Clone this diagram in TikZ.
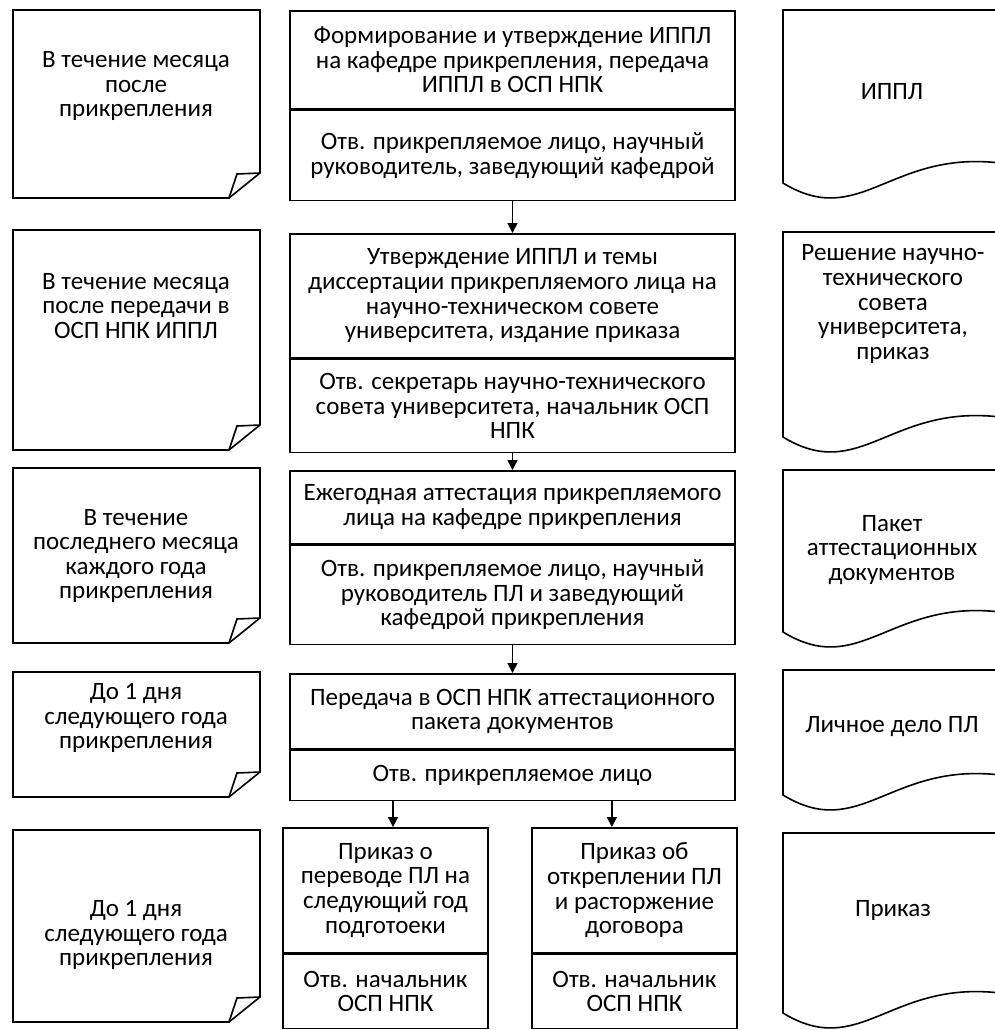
\documentclass[tikz,border=0pt]{standalone}
\usepackage{fontspec}
\setmainfont{Carlito}
\usetikzlibrary{arrows.meta,calc,positioning}

% page with a curled corner (left column)
\newcommand{\notepage}[4]{%
  \draw[frame] (#1,#2) -- (#3,#2) -- (#3,#4-25) -- (#3-31,#4) -- (#1,#4) -- cycle;
  \draw[frame] (#3-31,#4) -- (#3-23,#4-24) -- (#3,#4-25);
}
% document with a wavy bottom (right column)
\newcommand{\docpage}[2]{%
  \draw[frame] (1030,#1) -- (783,#1) -- (783,#2)
    .. controls (860,#2+47) and (890,#2-33) .. (1000,#2-20) -- (1030,#2-20);
}

\tikzset{
  frame/.style={line width=0.8pt},
  txt/.style={font=\fontsize{12.5}{12.3}\selectfont,align=center},
  stage/.style={txt,draw,line width=0.8pt,anchor=north,minimum width=222.5pt,inner sep=1pt},
  halfstage/.style={stage,minimum width=102.5pt},
  arr/.style={line width=0.8pt,-{Triangle[length=5pt,width=5pt]}}
}

\begin{document}
\begin{tikzpicture}[x=0.5pt,y=-0.5pt]
\useasboundingbox (0,0) rectangle (995,1030);
\clip (0,0) rectangle (995,1030);

% terms
\notepage{13}{10}{260}{198}
\node[txt] (t1) at (136,86) {В течение месяца\\после\\прикрепления};
\notepage{13}{230}{260}{450}
\node[txt] (t2) at (136,306) {В течение месяца\\после передачи в\\ОСП НПК ИППЛ};
\notepage{13}{468}{260}{643}
\node[txt] (t3) at (136,556) {В течение\\последнего месяца\\каждого года\\прикрепления};
\notepage{13}{672}{260}{797}
\node[txt] (t4) at (136,718) {До 1 дня\\следующего года\\прикрепления};
\notepage{13}{830}{260}{1022}
\node[txt] (t5) at (136,935) {До 1 дня\\следующего года\\прикрепления};

% stages
\node[stage,minimum height=49pt] (s1) at (512.5,10) {Формирование и утверждение ИППЛ\\на кафедре прикрепления, передача\\ИППЛ в ОСП НПК};
\node[stage,minimum height=45pt] (r1) at (s1.south) {Отв. прикрепляемое лицо, научный\\руководитель, заведующий кафедрой};

\node[stage,minimum height=62pt] (s2) at (512.5,233) {Утверждение ИППЛ и темы\\диссертации прикрепляемого лица на\\научно-техническом совете\\университета, издание приказа};
\node[stage,minimum height=46.5pt] (r2) at (s2.south) {Отв. секретарь научно-технического\\совета университета, начальник ОСП\\НПК};

\node[stage,minimum height=36.5pt] (s3) at (512.5,470) {Ежегодная аттестация прикрепляемого\\лица на кафедре прикрепления};
\node[stage,minimum height=49.5pt] (r3) at (s3.south) {Отв. прикрепляемое лицо, научный\\руководитель ПЛ и заведующий\\кафедрой прикрепления};

\node[stage,minimum height=37.5pt] (s4) at (512.5,673) {Передача в ОСП НПК аттестационного\\пакета документов};
\node[stage,minimum height=25pt] (r4) at (s4.south) {Отв. прикрепляемое лицо};

\node[halfstage,minimum height=62.5pt] (s5a) at (385.5,827) {Приказ о\\переводе ПЛ на\\следующий год\\подготоеки};
\node[halfstage,minimum height=37pt] (r5a) at (s5a.south) {Отв. начальник\\ОСП НПК};
\node[halfstage,minimum height=62.5pt] (s5b) at (634.5,827) {Приказ об\\откреплении ПЛ\\и расторжение\\договора};
\node[halfstage,minimum height=37pt] (r5b) at (s5b.south) {Отв. начальник\\ОСП НПК};

\draw[arr] (r1.south) -- (s2.north);
\draw[arr] (r2.south) -- (s3.north);
\draw[arr] (r3.south) -- (s4.north);
\coordinate (o1) at ($(r4.south west)!0.2325!(r4.south east)$);
\coordinate (o2) at ($(r4.south west)!0.7225!(r4.south east)$);
\draw[arr] (o1) -- (o1 |- s5a.north);
\draw[arr] (o2) -- (o2 |- s5b.north);

% documents
\docpage{10}{183}
\node[txt] (d1) at (892,92) {ИППЛ};
\docpage{232}{437}
\node[txt] (d2) at (893,304) {Решение научно-\\технического\\совета\\университета,\\приказ};
\docpage{470}{632}
\node[txt] (d3) at (892,550) {Пакет\\аттестационных\\документов};
\docpage{670}{795}
\node[txt] (d4) at (892,727) {Личное дело ПЛ};
\docpage{833}{1013}
\node[txt] (d5) at (893,910) {Приказ};
\end{tikzpicture}
\end{document}
